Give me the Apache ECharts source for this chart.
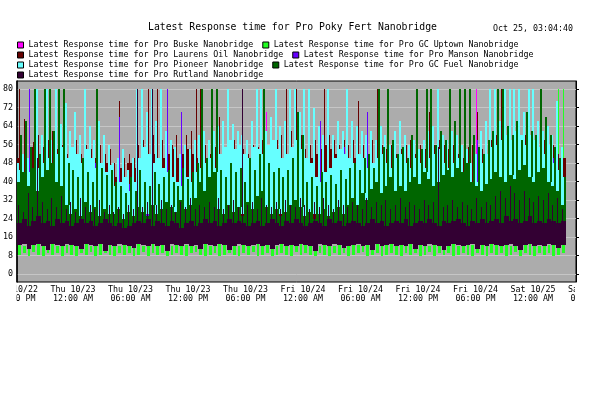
<!DOCTYPE html>
<html><head><meta charset="utf-8">
<script src="https://cdn.jsdelivr.net/npm/echarts@6/dist/echarts.min.js"></script>
<style>html,body{margin:0;padding:0;background:#fff}#c{width:616px;height:393px}</style>
</head><body><div id="c"></div>
<script>
const chartTitle = 'Latest Response time for Pro Poky Fert Nanobridge';
const timeStamp = 'Oct 25, 03:04:40';
const seriesNames = [
  'Latest Response time for Pro Buske Nanobridge',
  'Latest Response time for Pro GC Uptown Nanobridge',
  'Latest Response time for Pro Laurens Oil Nanobridge',
  'Latest Response time for Pro Manson Nanobridge',
  'Latest Response time for Pro Pioneer Nanobridge',
  'Latest Response time for Pro GC Fuel Nanobridge',
  'Latest Response time for Pro Rutland Nanobridge'
];
const yTickValues = [0, 8, 16, 24, 32, 40, 48, 56, 64, 72, 80];
const dayNames = ['Wed 10/22', 'Thu 10/23', 'Fri 10/24', 'Sat 10/25', 'Sun 10/26'];
const hourNames = ['12:00 AM', '06:00 AM', '12:00 PM', '06:00 PM'];
// hours relative to Thu 10/23 12:00 AM
const firstSampleHour = -5.844;
const sampleHours = 0.498;

// per 30-min column: low / typical high / peak (0 = no extra peak)
const buskeLo = [27,26,28,25,27,26,28,27,25,26, 28,27,25,26,27,28,26,25,27,26, 25,27,26,28,27,25,26,27,28,26, 27,25,26,28,26,27,25,27,26,28, 26,28,27,25,26,27,28,26,25,27, 25,26,28,27,26,25,27,28,26,27, 28,27,25,26,27,28,26,25,27,26, 26,25,27,28,26,27,25,26,28,27, 27,28,26,25,27,26,28,27,25,26, 25,27,28,26,27,25,26,28,27,26, 28,26,27,25,26,28,27,26,25,27, 26,27,25,28,26];
const buskeHi = [38,36,40,35,38,42,37,39,36,40, 38,41,36,39,37,40,38,36,39,37, 40,36,38,37,39,41,36,38,40,37, 39,37,40,36,38,39,41,37,36,40, 38,36,39,41,37,38,40,36,39,38, 37,40,38,36,39,37,41,38,36,40, 39,37,36,40,38,41,37,39,36,38, 40,38,37,39,36,41,38,37,40,39, 36,38,41,37,39,40,36,38,39,37, 41,37,38,40,36,39,38,37,41,38, 37,40,39,36,38,41,37,40,38,36, 39,37,40,38,36];
const buskePk = [0,0,0,0,0,58,0,0,0,0, 0,0,48,0,56,0,0,50,46,0, 0,0,45,0,0,0,0,0,0,0, 0,0,0,0,0,0,0,0,0,56, 0,0,0,0,0,0,0,58,0,0, 0,0,70,0,0,0,0,0,0,0, 0,0,0,0,0,0,0,0,0,0, 0,0,0,0,0,0,0,0,0,0, 0,0,50,0,0,0,0,48,0,0, 0,0,0,0,0,0,80,0,55,0, 0,0,0,0,0,0,0,0,0,0, 0,0,0,0,0];

const uptownLo = [8.5,9,8,9.5,8.5,8,9,8.5,9,8, 9,8.5,8,9,8.5,9.5,8,8.5,9,8.5, 8,9,8.5,9,8,8.5,9.5,8,9,8.5, 9,8,8.5,9,8.5,8,9,9.5,8.5,8, 8.5,9,8,8.5,9,8.5,8,9,8.5,9.5, 8,8.5,9,8,8.5,9,8.5,8,9.5,8.5, 9,8.5,8,9,8.5,8,9,8.5,9,8, 8.5,9,9.5,8,8.5,9,8,8.5,9,8.5, 8,9,8.5,9,8,8.5,9.5,8,9,8.5, 9,8,8.5,9,8.5,8,9,8.5,8,9, 8.5,9,8,8.5,9.5,8,9,8.5,8,9, 8.5,9,8,8.5,9];
const uptownHi = [13,12,14,12.5,13,14,12,13.5,12,13, 12.5,14,13,12,13.5,12,14,13,12.5,13, 13.5,12,13,14,12.5,13,12,13.5,14,12, 13,13.5,12,13,14,12.5,13,12,13.5,14, 12,13,14,12.5,13,13.5,12,14,13,12, 13,14,12.5,13,12,13.5,14,13,12,13.5, 12.5,13,14,12,13.5,13,12,14,12.5,13, 14,12.5,13,13.5,12,14,13,12.5,13,14, 13,12,14,13,12.5,13.5,12,13,14,12.5, 13.5,13,12,14,13,12.5,13.5,14,12,13, 12.5,14,13,12,13.5,14,12.5,13,14,12, 13,12.5,14,13,13.5];
const uptownPk = [0,0,0,0,0,0,0,0,0,0, 0,0,0,0,0,0,0,0,0,0, 0,0,0,0,0,0,0,0,0,0, 0,0,0,0,0,0,0,0,0,0, 0,0,0,0,0,0,0,0,0,0, 0,0,0,0,0,0,0,0,0,0, 0,0,0,0,0,0,0,0,0,0, 0,0,0,0,0,0,0,0,0,0, 0,0,0,0,0,0,0,0,0,0, 0,0,0,0,0,0,0,0,0,0, 0,0,0,0,0,0,0,0,0,0, 0,0,0,80,80];

const laurensLo = [26,25,27,24,26,25,27,26,24,25, 27,26,24,25,26,27,25,24,26,25, 24,26,25,27,26,24,25,26,27,25, 26,24,25,27,25,26,24,26,25,27, 25,27,26,24,25,26,27,25,24,26, 24,25,27,26,25,24,26,27,25,26, 27,26,24,25,26,27,25,24,26,25, 25,24,26,27,25,26,24,25,27,26, 26,27,25,24,26,25,27,26,24,25, 24,26,27,25,26,24,25,27,26,25, 27,25,26,24,25,27,26,25,24,26, 25,26,24,27,25];
const laurensHi = [50,52,48,55,50,46,48,44,46,42, 44,46,48,50,46,48,50,46,48,44, 42,46,40,48,46,44,48,50,52,50, 50,52,54,50,52,54,52,50,48,46, 44,42,46,48,50,46,44,48,46,44, 46,44,48,46,48,50,52,48,50,46, 48,50,52,54,56,54,52,48,50,48, 50,52,48,50,46,52,50,48,50,48, 46,48,52,50,48,46,50,52,48,46, 44,46,48,45,50,44,48,46,44,46, 48,46,50,52,55,50,56,52,54,50, 52,48,50,46,50];
const laurensPk = [80,67,62,57,60,55,58,62,54,56, 52,55,58,52,56,54,50,56,52,54, 48,75,50,52,50,56,58,80,60,80, 58,62,56,60,58,60,62,80,80,56, 52,55,68,54,56,58,55,54,52,56, 55,58,54,56,58,60,80,62,80,60, 54,56,58,60,80,60,58,56,58,56, 58,75,56,60,58,80,56,54,56,52, 54,56,58,52,56,54,70,56,58,56, 54,56,52,50,55,56,70,54,52,58, 60,80,58,56,60,58,60,56,58,54, 58,55,56,52,50];

const mansonLo = [26,28,25,27,26,28,27,25,26,27, 25,27,28,26,25,27,26,28,27,25, 27,25,26,28,27,26,28,25,27,26, 28,26,27,25,28,26,25,27,28,26, 27,25,26,28,27,25,26,28,27,25, 26,28,27,25,26,28,27,25,26,28, 25,27,26,28,25,27,28,26,25,27, 28,26,25,27,28,25,27,26,28,25, 26,25,28,27,26,28,25,27,26,28, 27,28,26,25,27,26,28,25,27,26, 25,27,28,26,27,25,26,28,27,25, 27,25,26,27,28];
const mansonHi = [36,38,35,39,37,40,36,38,35,37, 39,36,38,37,40,35,38,36,39,37, 35,38,36,39,37,36,40,38,35,37, 38,36,39,35,38,37,40,36,38,39, 37,35,38,40,36,39,37,38,35,36, 39,37,36,38,40,35,38,37,39,36, 38,40,37,36,39,35,38,36,37,40, 36,39,38,35,37,40,36,38,39,37, 40,36,38,37,35,39,38,36,40,37, 38,35,37,39,36,38,40,37,35,39, 36,38,39,37,40,36,35,38,37,39, 38,36,37,40,36];
const mansonPk = [0,0,80,0,0,0,0,0,0,0, 0,0,0,0,0,0,48,0,0,0, 0,68,0,0,0,0,0,0,0,0, 0,80,0,0,70,0,0,0,0,0, 46,0,0,0,0,0,0,0,0,0, 0,0,0,0,0,0,0,0,0,0, 0,0,0,66,0,0,0,0,55,0, 0,0,0,70,0,0,0,0,45,0, 0,0,0,0,45,0,0,0,0,0, 0,0,0,0,0,0,58,0,0,0, 0,0,0,0,0,0,0,0,0,0, 50,0,50,0,0];

const pioneerLo = [25,24,26,25,24,26,25,24,25,26, 24,25,26,24,25,24,26,25,24,25, 26,25,24,26,25,24,25,26,24,25, 25,24,26,25,24,25,26,24,25,26, 24,25,24,26,25,24,25,26,24,25, 25,26,24,25,24,26,25,24,26,25, 24,25,26,24,25,24,26,25,24,25, 26,24,25,24,26,25,24,25,26,24, 25,24,26,25,24,26,25,24,25,26, 24,25,24,26,25,24,26,25,24,25, 25,26,24,25,24,26,25,24,26,25, 24,25,26,24,25];
const pioneerHi = [45,42,44,40,46,48,50,46,52,55, 50,55,52,48,54,50,46,48,44,47, 38,40,42,36,40,50,55,52,48,50, 46,44,42,40,38,42,40,44,46,48, 50,46,52,55,58,54,56,52,50,55, 54,52,56,58,54,50,52,55,58,54, 50,48,42,40,44,46,50,54,52,50, 48,52,50,46,48,50,52,48,46,50, 52,48,46,50,48,46,50,52,54,48, 46,48,50,44,42,38,40,48,52,55, 56,58,60,58,62,60,56,60,58,55, 52,56,48,45,42];
const pioneerPk = [48,52,50,46,80,60,80,58,80,65, 74,62,70,60,80,64,58,66,60,56, 48,50,54,45,50,80,80,70,80,66, 80,62,58,55,52,56,54,58,60,62, 58,62,64,66,80,65,62,60,58,66, 80,80,62,68,80,64,66,80,80,70, 80,80,72,64,60,80,60,66,62,80, 66,64,62,60,62,58,64,60,56,62, 66,60,56,58,54,58,62,64,80,60, 58,62,60,56,54,48,52,62,66,80, 80,66,80,80,80,80,70,80,80,66, 62,64,60,75,55];

const fuelLo = [16,17,15,16,18,16,15,17,16,15, 17,16,15,16,17,18,16,15,16,17, 15,16,17,16,15,17,16,18,16,15, 16,17,15,16,18,16,17,15,16,17, 16,15,17,16,15,18,16,17,15,16, 17,16,15,17,16,15,18,16,17,15, 16,17,16,15,17,16,15,18,16,17, 15,16,18,16,17,15,16,17,16,15, 17,16,15,16,18,17,16,15,16,17, 16,15,17,16,15,16,18,17,15,16, 17,16,15,17,16,18,15,16,17,16, 15,17,16,16,15];
const fuelHi = [40,44,38,46,36,42,45,48,40,38, 30,26,28,25,31,27,29,25,28,26, 26,28,24,27,25,29,27,25,30,26, 28,31,29,27,32,28,30,33,40,36, 42,44,28,26,30,27,29,25,31,28, 34,36,29,26,28,25,27,30,32,29, 25,27,24,26,28,25,27,29,26,30, 33,30,35,32,37,40,35,38,42,36, 38,36,40,42,39,44,41,38,40,43, 45,42,46,44,48,40,38,36,39,41, 44,42,40,43,41,45,47,42,40,44, 46,40,38,36,30];
const fuelPk = [60,66,55,80,52,80,80,62,80,80, 48,45,42,50,44,40,80,46,43,45, 40,38,35,42,36,45,40,38,44,39, 42,45,40,38,46,41,44,48,80,50, 80,80,45,42,48,44,46,40,50,45, 52,80,48,44,46,42,45,50,70,60, 40,42,38,44,40,43,39,45,41,46, 48,45,50,52,46,80,55,80,58,52, 55,50,60,80,54,80,80,56,62,58, 80,66,80,80,80,60,55,52,58,62, 80,80,64,60,66,58,70,62,60,80, 68,60,55,50,42];

const rutlandLo = [12.5,13,11,12.5,13,12,10.5,13,12.5,12, 13,12.5,12,11,13,12.5,12,13,10,12.5, 12,13,12.5,12,11.5,13,12.5,12,13,12, 12.5,10,13,12.5,12,13,12,12.5,11,13, 12.5,12,13,12.5,10.5,12,13,12.5,12,12.5, 13,12,12.5,11,12.5,13,12,12.5,12,13, 12.5,12,10,13,12.5,12,13,12.5,11.5,12, 12.5,13,12,12.5,10.5,13,12,12.5,13,12, 12.5,12,13,11,12.5,12,13,12.5,12,10.5, 12,13,12.5,12,12.5,13,11,12.5,12,13, 12.5,12,12.5,13,12,10.5,12.5,13,12,12.5, 12,13,12.5,11.5,12.5];
const rutlandHi = [22,24,21,23,25,22,23,21,24,22, 23,21,22,24,22,23,21,22,24,22, 21,22,20,21,22,23,22,24,21,23, 22,21,23,22,20,22,23,21,22,24, 22,23,21,22,24,22,23,22,21,22, 23,21,22,24,22,21,23,22,24,22, 21,22,23,22,21,24,22,23,21,22, 23,22,21,22,24,22,23,21,22,23, 22,24,21,22,23,22,24,22,21,23, 22,23,24,22,21,23,22,24,22,23, 24,22,25,23,24,22,23,25,22,23, 22,24,23,22,23];
const rutlandPk = [30,27,35,29,50,31,28,33,29,34, 28,31,27,33,29,30,28,32,27,30, 27,29,26,30,28,80,29,31,80,30, 32,28,30,27,31,29,33,28,30,29, 31,29,33,28,30,32,29,80,30,31, 28,33,30,29,31,28,32,30,29,33, 30,28,31,29,33,30,28,32,30,29, 31,30,28,33,29,31,30,32,28,30, 33,29,31,30,28,32,30,31,55,29, 30,32,29,31,30,28,33,29,31,30, 34,36,33,38,35,32,36,33,31,34, 32,35,30,33,28];

const seriesValues = [
  [buskeLo, buskeHi, buskePk],
  [uptownLo, uptownHi, uptownPk],
  [laurensLo, laurensHi, laurensPk],
  [mansonLo, mansonHi, mansonPk],
  [pioneerLo, pioneerHi, pioneerPk],
  [fuelLo, fuelHi, fuelPk],
  [rutlandLo, rutlandHi, rutlandPk]
];

// styles (kept apart from data)
const colors = ['#ff00ff', '#22ff22', '#660000', '#6600ff', '#66ffff', '#006600', '#330033'];
const coreFrac = [1, 0.5, 1, 1, 1, 1, 1];
const spikeOff = [1, 2, 2, 2, 0, 3, 1];
const spikeW = [1, 1, 1, 1, 2, 2, 1];
const FONT = 'DejaVu Sans Mono';

const chart = echarts.init(document.getElementById('c'), null, {renderer: 'canvas'});

function makeRender(k) {
  return function (params, api) {
    const t = api.value(0), lo = api.value(1), hi = api.value(2), pk = api.value(3);
    const a = api.coord([t, hi]);
    const b = api.coord([t + sampleHours, lo]);
    const x0 = Math.round(a[0]), x1 = Math.round(b[0]);
    const w = Math.max(1, x1 - x0);
    const cw = Math.max(1, Math.round(w * coreFrac[k]));
    const cx = x0 + Math.round((w - cw) / 2);
    const yTop = Math.round(a[1]), yBot = Math.round(b[1]);
    const color = colors[k];
    const children = [{type: 'rect', shape: {x: cx, y: yTop, width: cw, height: Math.max(1, yBot - yTop)}, style: {fill: color}}];
    if (pk > hi) {
      const p = Math.round(api.coord([t, pk])[1]);
      children.push({type: 'rect', shape: {x: x0 + spikeOff[k], y: p, width: spikeW[k], height: yTop - p}, style: {fill: color}});
    }
    return {type: 'group', children: children};
  };
}

const series = seriesNames.map(function (name, k) {
  const v = seriesValues[k];
  return {
    name: name,
    type: 'custom',
    xAxisIndex: 0, yAxisIndex: 0,
    renderItem: makeRender(k),
    itemStyle: {color: colors[k]},
    encode: {x: 0, y: [1, 2, 3]},
    clip: true,
    silent: true,
    data: v[0].map(function (lo, i) { return [firstSampleHour + i * sampleHours, lo, v[1][i], v[2][i]]; })
  };
});

function legendRow(names, top) {
  return {
    data: names, top: top, left: 17, padding: 0, orient: 'horizontal',
    itemWidth: 6, itemHeight: 6, itemGap: 9, selectedMode: false, icon: 'rect',
    itemStyle: {borderColor: '#000', borderWidth: 1},
    textStyle: {fontFamily: FONT, fontSize: 8.3, color: '#000', lineHeight: 10}
  };
}

const option = {
  animation: false,
  backgroundColor: '#fff',
  title: [
    {text: chartTitle, left: 148, top: 21, padding: 0,
      textStyle: {fontFamily: FONT, fontSize: 9.8, fontWeight: 'normal', color: '#000', lineHeight: 12}},
    {text: timeStamp, left: 493, top: 24, padding: 0,
      textStyle: {fontFamily: FONT, fontSize: 8.3, fontWeight: 'normal', color: '#000', lineHeight: 10}}
  ],
  legend: [
    legendRow([seriesNames[0], seriesNames[1]], 40),
    legendRow([seriesNames[2], seriesNames[3]], 50),
    legendRow([seriesNames[4], seriesNames[5]], 60),
    legendRow([seriesNames[6]], 70)
  ],
  grid: [
    {left: 17, right: 40, top: 81, bottom: 111, show: true, backgroundColor: '#acacac', borderColor: '#000', borderWidth: 1, containLabel: false, outerBoundsMode: 'none'},
    {left: 15.5, right: 25.5, top: 81, bottom: 111, show: false, containLabel: false, outerBoundsMode: 'none'}
  ],
  xAxis: [
    {type: 'value', gridIndex: 0, min: -5.844, max: 52.49, axisLine: {show: false, onZero: false}, axisTick: {show: false}, axisLabel: {show: false}, splitLine: {show: false}},
    {type: 'value', gridIndex: 1, min: -6, max: 54, interval: 6,
      axisLine: {show: false, onZero: false}, axisTick: {show: false}, splitLine: {show: false},
      axisLabel: {show: true, margin: 3, fontFamily: FONT, fontSize: 8.3, color: '#000', lineHeight: 9.5, showMinLabel: true, showMaxLabel: true, hideOverlap: false,
        formatter: function (h) {
          const d = Math.floor((h + 24) / 24);
          const hr = ((h % 24) + 24) % 24;
          return dayNames[d] + '\n' + hourNames[Math.round(hr / 6)];
        }}}
  ],
  yAxis: [
    {type: 'value', gridIndex: 0, min: -3.35, max: 83.45,
      axisLine: {show: true, onZero: false, lineStyle: {color: '#000', width: 1.5}},
      axisTick: {show: false, customValues: yTickValues},
      axisLabel: {show: true, customValues: yTickValues, margin: 4, fontFamily: FONT, fontSize: 8.3, color: '#000'},
      splitLine: {show: true, lineStyle: {color: '#c6c6c6', width: 1}}},
    {type: 'value', gridIndex: 0, position: 'right', min: -3.35, max: 83.45,
      axisLine: {show: true, onZero: false, lineStyle: {color: '#000', width: 1}},
      axisTick: {show: true, inside: false, length: 3, customValues: yTickValues, lineStyle: {color: '#000'}},
      axisLabel: {show: false, customValues: yTickValues},
      splitLine: {show: false}},
    {type: 'value', gridIndex: 1, show: false, axisLine: {show: false, onZero: false}, axisTick: {show: false}, axisLabel: {show: false}, splitLine: {show: false}}
  ],
  graphic: [
    {type: 'rect', z: 100, shape: {x: 0, y: 283, width: 16.5, height: 30}, style: {fill: '#fff'}},
    {type: 'rect', z: 100, shape: {x: 575, y: 283, width: 41, height: 30}, style: {fill: '#fff'}}
  ],
  series: series
};
chart.setOption(option);
</script>
</body></html>
